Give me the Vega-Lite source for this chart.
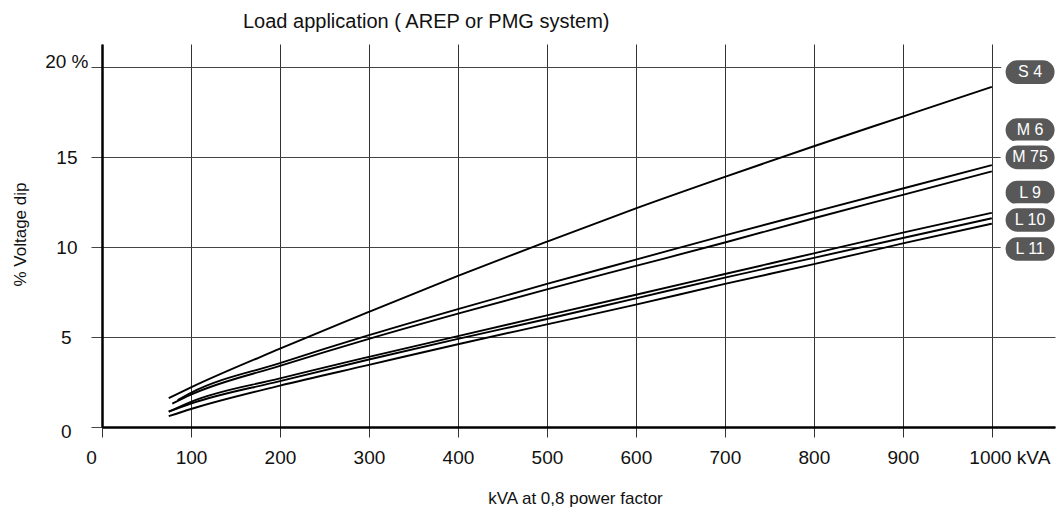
{
  "$schema": "https://vega.github.io/schema/vega-lite/v6.json",
  "width": 953,
  "height": 383,
  "autosize": {"type": "none"},
  "padding": {"left": 102, "top": 44, "right": 8, "bottom": 85},
  "background": "white",
  "title": {"text": "Load application ( AREP or PMG system)", "anchor": "start", "frame": "group", "dx": 141, "offset": 2, "baseline": "middle", "fontSize": 20, "fontWeight": "normal", "font": "Liberation Sans", "color": "#111"},
  "config": {"view": {"stroke": null}, "font": "Liberation Sans"},
  "datasets": {
    "curves": [
      {"s": "S 4", "kva": 75, "v": 1.6}, {"s": "S 4", "kva": 100, "v": 2.2}, {"s": "S 4", "kva": 200, "v": 4.35}, {"s": "S 4", "kva": 300, "v": 6.4}, {"s": "S 4", "kva": 400, "v": 8.4}, {"s": "S 4", "kva": 500, "v": 10.3}, {"s": "S 4", "kva": 600, "v": 12.15}, {"s": "S 4", "kva": 700, "v": 13.9}, {"s": "S 4", "kva": 800, "v": 15.6}, {"s": "S 4", "kva": 900, "v": 17.25}, {"s": "S 4", "kva": 1000, "v": 18.9},
      {"s": "M 6", "kva": 85, "v": 1.5}, {"s": "M 6", "kva": 100, "v": 1.9}, {"s": "M 6", "kva": 200, "v": 3.55}, {"s": "M 6", "kva": 300, "v": 5.1}, {"s": "M 6", "kva": 400, "v": 6.55}, {"s": "M 6", "kva": 500, "v": 7.95}, {"s": "M 6", "kva": 600, "v": 9.3}, {"s": "M 6", "kva": 700, "v": 10.65}, {"s": "M 6", "kva": 800, "v": 11.95}, {"s": "M 6", "kva": 900, "v": 13.25}, {"s": "M 6", "kva": 1000, "v": 14.55},
      {"s": "M 75", "kva": 79, "v": 1.3}, {"s": "M 75", "kva": 100, "v": 1.8}, {"s": "M 75", "kva": 200, "v": 3.4}, {"s": "M 75", "kva": 300, "v": 4.9}, {"s": "M 75", "kva": 400, "v": 6.3}, {"s": "M 75", "kva": 500, "v": 7.65}, {"s": "M 75", "kva": 600, "v": 8.95}, {"s": "M 75", "kva": 700, "v": 10.25}, {"s": "M 75", "kva": 800, "v": 11.6}, {"s": "M 75", "kva": 900, "v": 12.9}, {"s": "M 75", "kva": 1000, "v": 14.2},
      {"s": "L 9", "kva": 75, "v": 0.85}, {"s": "L 9", "kva": 100, "v": 1.4}, {"s": "L 9", "kva": 200, "v": 2.7}, {"s": "L 9", "kva": 300, "v": 3.9}, {"s": "L 9", "kva": 400, "v": 5.05}, {"s": "L 9", "kva": 500, "v": 6.2}, {"s": "L 9", "kva": 600, "v": 7.35}, {"s": "L 9", "kva": 700, "v": 8.5}, {"s": "L 9", "kva": 800, "v": 9.65}, {"s": "L 9", "kva": 900, "v": 10.8}, {"s": "L 9", "kva": 1000, "v": 11.9},
      {"s": "L 10", "kva": 75, "v": 0.85}, {"s": "L 10", "kva": 100, "v": 1.3}, {"s": "L 10", "kva": 200, "v": 2.55}, {"s": "L 10", "kva": 300, "v": 3.75}, {"s": "L 10", "kva": 400, "v": 4.9}, {"s": "L 10", "kva": 500, "v": 6.0}, {"s": "L 10", "kva": 600, "v": 7.15}, {"s": "L 10", "kva": 700, "v": 8.3}, {"s": "L 10", "kva": 800, "v": 9.4}, {"s": "L 10", "kva": 900, "v": 10.5}, {"s": "L 10", "kva": 1000, "v": 11.6},
      {"s": "L 11", "kva": 75, "v": 0.6}, {"s": "L 11", "kva": 100, "v": 1.0}, {"s": "L 11", "kva": 200, "v": 2.3}, {"s": "L 11", "kva": 300, "v": 3.45}, {"s": "L 11", "kva": 400, "v": 4.6}, {"s": "L 11", "kva": 500, "v": 5.7}, {"s": "L 11", "kva": 600, "v": 6.8}, {"s": "L 11", "kva": 700, "v": 7.95}, {"s": "L 11", "kva": 800, "v": 9.05}, {"s": "L 11", "kva": 900, "v": 10.2}, {"s": "L 11", "kva": 1000, "v": 11.3}
    ],
    "tags": [
      {"tag": "S 4", "pos": 19.72},
      {"tag": "M 6", "pos": 16.5},
      {"tag": "M 75", "pos": 14.98},
      {"tag": "L 9", "pos": 13.02},
      {"tag": "L 10", "pos": 11.5},
      {"tag": "L 11", "pos": 9.89}
    ]
  },
  "layer": [
    {
      "data": {"name": "curves"},
      "mark": {"type": "line", "color": "black", "strokeWidth": 1.9, "interpolate": "monotone"},
      "encoding": {
        "x": {
          "field": "kva", "type": "quantitative",
          "scale": {"domain": [0, 1071], "nice": false, "zero": false},
          "axis": {
            "values": [0, 100, 200, 300, 400, 500, 600, 700, 800, 900, 1000],
            "title": "kVA at 0,8 power factor", "titleFontSize": 17, "titleFontWeight": "normal", "titleColor": "#111",
            "titleX": 473, "titleY": 71, "titleAlign": "center", "titleBaseline": "middle",
            "labelFontSize": 19, "labelColor": "#111", "labelPadding": 11,
            "labelFlush": false, "labelOverlap": false, "labelBound": false,
            "labelExpr": "datum.value == 1000 ? '1000   kVA' : '' + datum.value",
            "labelAlign": {"condition": {"test": "datum.value == 1000", "value": "left"}, "value": "center"},
            "labelOffset": {"condition": [{"test": "datum.value == 0", "value": -11}, {"test": "datum.value == 1000", "value": -23}], "value": 0},
            "domainColor": "black", "domainWidth": 2.5,
            "tickColor": "#333", "tickSize": 10, "tickWidth": 1,
            "grid": true, "gridColor": "#333", "gridWidth": 1, "gridOpacity": 1
          }
        },
        "y": {
          "field": "v", "type": "quantitative",
          "scale": {"domain": [0, 21.28], "nice": false},
          "axis": {
            "values": [0, 5, 10, 15, 20],
            "title": "% Voltage dip", "titleFontSize": 17, "titleFontWeight": "normal", "titleColor": "#111",
            "titleX": -82, "titleY": 190, "titleAlign": "center", "titleBaseline": "middle", "titleAngle": -90,
            "labelExpr": "datum.value == 20 ? '20 %' : '' + datum.value",
            "labelFontSize": 19, "labelColor": "#111",
            "labelPadding": {"condition": [{"test": "datum.value == 20", "value": 3}, {"test": "datum.value < 10", "value": 20}], "value": 14},
            "labelOffset": {"condition": [{"test": "datum.value == 20", "value": -6}, {"test": "datum.value == 0", "value": 4}], "value": 0},
            "domainColor": "black", "domainWidth": 2.5,
            "tickColor": "#444", "tickSize": 11, "tickWidth": 1,
            "grid": true, "gridColor": "#444", "gridWidth": 1, "gridOpacity": 1
          }
        },
        "detail": {"field": "s", "type": "nominal"}
      }
    },
    {
      "data": {"name": "tags"},
      "mark": {"type": "point", "shape": "M-0.47,-0.53L0.47,-0.53A0.53,0.53 0 0 1 0.47,0.53L-0.47,0.53A0.53,0.53 0 0 1 -0.47,-0.53Z", "size": 2916, "filled": true, "fill": "#585858", "stroke": "white", "strokeWidth": 5, "opacity": 1},
      "encoding": {
        "x": {"datum": 1043, "type": "quantitative"},
        "y": {"field": "pos", "type": "quantitative"}
      }
    },
    {
      "data": {"name": "tags"},
      "mark": {"type": "text", "color": "white", "fontSize": 16, "align": "center", "baseline": "middle", "font": "Liberation Sans"},
      "encoding": {
        "x": {"datum": 1043, "type": "quantitative"},
        "y": {"field": "pos", "type": "quantitative"},
        "text": {"field": "tag", "type": "nominal"}
      }
    }
  ]
}
